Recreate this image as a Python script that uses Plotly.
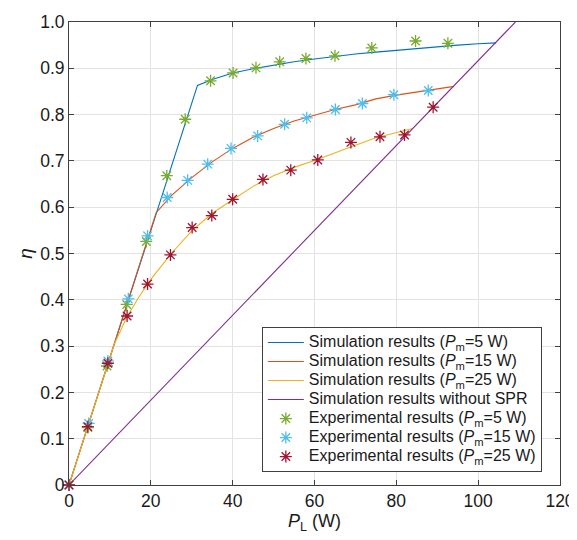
import plotly.graph_objects as go

# Simulation curves (P_L in W, efficiency)
sim5_x = [0, 31.4, 35, 40, 45, 50, 55, 60, 65, 70, 75, 80, 85, 90, 95, 100, 104.4]
sim5_y = [0, 0.863, 0.876, 0.890, 0.899, 0.907, 0.914, 0.920, 0.926, 0.931, 0.935, 0.939, 0.943, 0.947, 0.950, 0.953, 0.955]

sim15_x = [0, 21.3, 25, 30, 35, 40, 45, 50, 55, 60, 65, 70, 75, 80, 85, 90, 94.1]
sim15_y = [0, 0.588, 0.625, 0.664, 0.698, 0.727, 0.751, 0.770, 0.786, 0.799, 0.811, 0.821, 0.834, 0.842, 0.849, 0.856, 0.861]

sim25_x = [0, 11, 14, 17, 20, 25, 30, 35, 40, 45, 50, 55, 60, 65, 70, 75, 80, 84]
sim25_y = [0, 0.303, 0.360, 0.405, 0.444, 0.500, 0.549, 0.587, 0.616, 0.645, 0.668, 0.686, 0.701, 0.718, 0.734, 0.750, 0.761, 0.770]

nospr_x = [0, 109.1]
nospr_y = [0, 1.0]

# Experimental points
exp5_x = [0, 4.6, 9.3, 14.1, 18.9, 23.9, 28.4, 34.6, 40.1, 45.7, 51.5, 57.9, 65.0, 74.0, 84.7, 92.6]
exp5_y = [0, 0.124, 0.257, 0.390, 0.526, 0.668, 0.790, 0.873, 0.890, 0.901, 0.914, 0.921, 0.927, 0.944, 0.959, 0.954]

exp15_x = [0, 4.8, 9.5, 14.5, 19.2, 24.0, 29.0, 33.9, 39.6, 46.1, 52.7, 58.1, 65.1, 71.7, 79.4, 87.8]
exp15_y = [0, 0.133, 0.268, 0.402, 0.538, 0.621, 0.658, 0.693, 0.727, 0.754, 0.779, 0.793, 0.811, 0.824, 0.843, 0.852]

exp25_x = [0, 4.6, 9.5, 14.2, 19.2, 24.8, 30.1, 34.9, 40.0, 47.4, 54.2, 60.8, 68.9, 76.0, 82.0, 89.0]
exp25_y = [0, 0.126, 0.263, 0.365, 0.434, 0.497, 0.556, 0.582, 0.617, 0.660, 0.680, 0.702, 0.740, 0.752, 0.756, 0.816]

x_ticks = [0, 20, 40, 60, 80, 100, 120]
y_ticks = [0, 0.1, 0.2, 0.3, 0.4, 0.5, 0.6, 0.7, 0.8, 0.9, 1.0]
y_ticktext = ['0', '0.1', '0.2', '0.3', '0.4', '0.5', '0.6', '0.7', '0.8', '0.9', '1.0']

pm = '(<i>P</i><sub>m</sub>='


def lg(s):
    # legend rows are spaced by the small legend font, text itself drawn bigger
    return '<span style="font-size:16px">' + s + '</span>'


fig = go.Figure()

# simulation lines
lines = [
    (sim5_x, sim5_y, '#0072BD', 'Simulation results ' + pm + '5 W)'),
    (sim15_x, sim15_y, '#D95319', 'Simulation results ' + pm + '15 W)'),
    (sim25_x, sim25_y, '#EDB120', 'Simulation results ' + pm + '25 W)'),
    (nospr_x, nospr_y, '#7E2F8E', 'Simulation results without SPR'),
]
for xs, ys, c, name in lines:
    fig.add_trace(go.Scatter(x=xs, y=ys, mode='lines', name=lg(name),
                             line=dict(color=c, width=1.1)))

# experimental markers
points = [
    (exp5_x, exp5_y, '#77AC30', 'Experimental results ' + pm + '5 W)'),
    (exp15_x, exp15_y, '#4DBEEE', 'Experimental results ' + pm + '15 W)'),
    (exp25_x, exp25_y, '#A2142F', 'Experimental results ' + pm + '25 W)'),
]
for xs, ys, c, name in points:
    fig.add_trace(go.Scatter(x=xs, y=ys, mode='markers', name=lg(name),
                             marker=dict(symbol='asterisk-open', size=10,
                                         color=c, line=dict(color=c, width=1.3)),
                             cliponaxis=False))

axis_common = dict(
    showline=True, linecolor='#404040', linewidth=1, mirror='ticks',
    ticks='inside', ticklen=5, tickcolor='#404040',
    showgrid=True, gridcolor='#e3e3e3', gridwidth=1,
    zeroline=False, automargin=False,
    tickfont=dict(size=17.5, color='#1a1a1a'),
)

fig.update_xaxes(range=[0, 120], tickvals=x_ticks,
                 title=dict(text='<i>P</i><sub>L</sub> (W)', font=dict(size=18, color='#1a1a1a'), standoff=4),
                 **axis_common)
fig.update_yaxes(range=[0, 1.0], tickvals=y_ticks, ticktext=y_ticktext,
                 title=dict(text='<i>η</i>', font=dict(size=19, color='#1a1a1a'), standoff=2),
                 **axis_common)

# page body adds 8px around the figure, so the figure is 8px smaller
fig.update_layout(
    width=569, height=532,
    margin=dict(l=61, r=17, t=14, b=55),
    paper_bgcolor='white', plot_bgcolor='white',
    font=dict(family='Liberation Sans, Arial, sans-serif', color='#1a1a1a'),
    legend=dict(
        x=0.963, y=0.028, xanchor='right', yanchor='bottom',
        bgcolor='white', bordercolor='#404040', borderwidth=1,
        font=dict(size=12, color='#1a1a1a'),
        itemwidth=36, tracegroupgap=0,
    ),
)

fig.write_html('out.html')
